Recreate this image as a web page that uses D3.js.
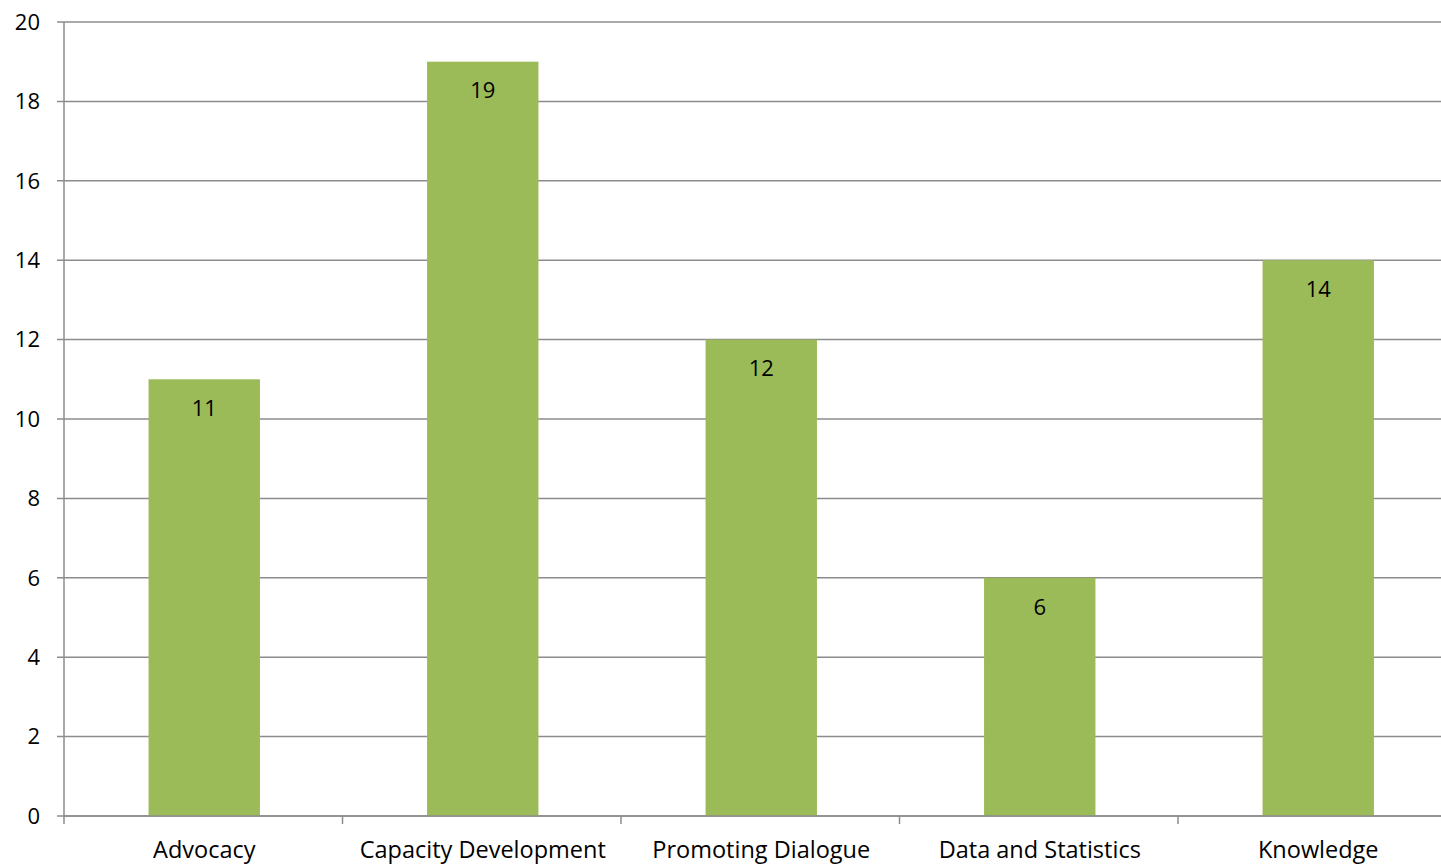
<!DOCTYPE html>
<html>
<head>
<meta charset="utf-8">
<script src="https://cdn.jsdelivr.net/npm/d3@7"></script>
<style>
  body { margin: 0; background: #fff; }
  svg { display: block; font-family: "Open Sans", sans-serif; }
</style>
</head>
<body>
<div id="chart"></div>
<script>
const categories = ["Advocacy", "Capacity Development", "Promoting Dialogue", "Data and Statistics", "Knowledge"];
const values = [11, 19, 12, 6, 14];
const yTicks = [0, 2, 4, 6, 8, 10, 12, 14, 16, 18, 20];

const width = 1441, height = 865;
const plotLeft = 64, plotTop = 22, plotBottom = 816, plotRight = 1456.5;
const numSize = 22;
const catSize = 23.5;

let svg = d3.select("#chart").append("svg")
  .attr("width", width)
  .attr("height", height);

let x = d3.scaleBand()
  .domain(categories)
  .range([plotLeft, plotRight])
  .padding(0);

let y = d3.scaleLinear()
  .domain([0, 20])
  .range([plotBottom, plotTop]);

const gridColor = "#8c8c8c";

// horizontal gridlines + y ticks
svg.append("g").selectAll("line")
  .data(yTicks)
  .enter().append("line")
  .attr("x1", plotLeft - 7)
  .attr("x2", width)
  .attr("y1", function(d) { return y(d); })
  .attr("y2", function(d) { return y(d); })
  .attr("stroke", gridColor)
  .attr("stroke-width", 1.5);

svg.append("g").selectAll("text")
  .data(yTicks)
  .enter().append("text")
  .attr("x", plotLeft - 24)
  .attr("y", function(d) { return y(d); })
  .attr("dy", "0.35em")
  .attr("text-anchor", "end")
  .attr("font-size", numSize)
  .attr("fill", "#000")
  .text(function(d) { return d; });

// bars
let barW = x.bandwidth() * 0.4;
svg.append("g").selectAll("rect")
  .data(values)
  .enter().append("rect")
  .attr("x", function(d, i) { return x(categories[i]) + x.bandwidth() / 2 - barW / 2 + 1; })
  .attr("y", function(d) { return y(d); })
  .attr("width", barW)
  .attr("height", function(d) { return y(0) - y(d); })
  .attr("fill", "#9bbb59");

// value labels
svg.append("g").selectAll("text")
  .data(values)
  .enter().append("text")
  .attr("x", function(d, i) { return x(categories[i]) + x.bandwidth() / 2 + 1; })
  .attr("y", function(d) { return y(d) + 29; })
  .attr("dy", "0.35em")
  .attr("text-anchor", "middle")
  .attr("font-size", numSize)
  .attr("fill", "#000")
  .text(function(d) { return d; });

// y axis line
svg.append("line")
  .attr("x1", plotLeft).attr("x2", plotLeft)
  .attr("y1", plotTop).attr("y2", plotBottom + 8)
  .attr("stroke", gridColor)
  .attr("stroke-width", 1.5);

// x axis line
svg.append("line")
  .attr("x1", plotLeft).attr("x2", width)
  .attr("y1", plotBottom).attr("y2", plotBottom)
  .attr("stroke", gridColor)
  .attr("stroke-width", 1.5);

// category ticks between bands
svg.append("g").selectAll("line")
  .data(categories.slice(1))
  .enter().append("line")
  .attr("x1", function(d) { return x(d); })
  .attr("x2", function(d) { return x(d); })
  .attr("y1", plotBottom)
  .attr("y2", plotBottom + 8)
  .attr("stroke", gridColor)
  .attr("stroke-width", 1.5);

// category labels
svg.append("g").selectAll("text")
  .data(categories)
  .enter().append("text")
  .attr("x", function(d) { return x(d) + x.bandwidth() / 2 + 1; })
  .attr("y", 850)
  .attr("dy", "0.35em")
  .attr("text-anchor", "middle")
  .attr("font-size", catSize)
  .attr("fill", "#000")
  .text(function(d) { return d; });
</script>
</body>
</html>
